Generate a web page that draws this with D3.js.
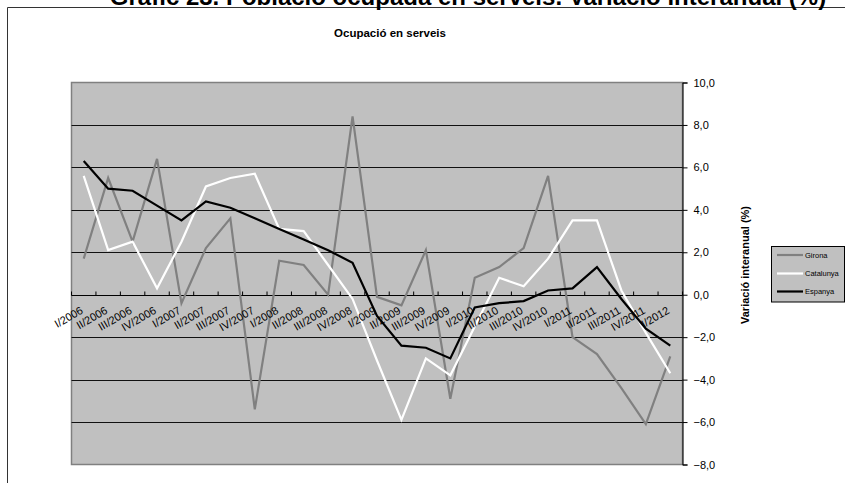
<!DOCTYPE html>
<html><head><meta charset="utf-8">
<script src="https://cdn.jsdelivr.net/npm/d3@7"></script>
<style>body{margin:0;background:#fff}svg{display:block;font-family:"Liberation Sans",Arial,sans-serif}</style>
</head><body><svg id="c" width="845" height="483"></svg>
<script>
const categories = ["I/2006","II/2006","III/2006","IV/2006","I/2007","II/2007","III/2007","IV/2007","I/2008","II/2008","III/2008","IV/2008","I/2009","II/2009","III/2009","IV/2009","I/2010","II/2010","III/2010","IV/2010","I/2011","II/2011","III/2011","IV/2011","I/2012"];
const girona    = [1.7,5.5,2.5,6.4,-0.4,2.2,3.6,-5.4,1.6,1.4,0.0,8.4,-0.1,-0.5,2.1,-4.9,0.8,1.3,2.2,5.6,-2.0,-2.8,-4.4,-6.1,-2.9];
const catalunya = [5.6,2.1,2.5,0.3,2.5,5.1,5.5,5.7,3.1,3.0,1.4,-0.2,-3.1,-5.9,-3.0,-3.8,-1.5,0.8,0.4,1.7,3.5,3.5,0.2,-1.8,-3.7];
const espanya   = [6.3,5.0,4.9,4.2,3.5,4.4,4.1,3.6,3.1,2.6,2.1,1.5,-1.0,-2.4,-2.5,-3.0,-0.6,-0.4,-0.3,0.2,0.3,1.3,-0.2,-1.6,-2.4];
const yTicks = [-8,-6,-4,-2,0,2,4,6,8,10];
const seriesNames = ["Girona","Catalunya","Espanya"];
const seriesColors = ["#808080","#ffffff","#000000"];

const svg = d3.select("#c");
const L = 71.5, R = 682.5, T = 82.5, B = 464.5;
const x = d3.scaleBand().domain(categories).range([L, R]);
const y = d3.scaleLinear().domain([-8, 10]).range([B, T]);
const cx = c => x(c) + x.bandwidth() / 2;

// outer frame
svg.append("path").attr("d", "M7.5,483 V7.5 H845").attr("fill","none").attr("stroke","#333").attr("stroke-width",1);

// main title (cut at top, as in the reference)
svg.append("text").attr("x", 468).attr("y", 5).attr("text-anchor","middle")
  .attr("font-size", 24).attr("font-weight","bold").attr("fill","#000")
  .text("Gràfic 23. Població ocupada en serveis. Variació interanual (%)");

// subtitle
svg.append("text").attr("x", 390).attr("y", 36.5).attr("text-anchor","middle")
  .attr("font-size", 11.5).attr("font-weight","bold").text("Ocupació en serveis");

// plot area
svg.append("rect").attr("x", L).attr("y", T).attr("width", R - L).attr("height", B - T)
  .attr("fill","#c0c0c0").attr("stroke","#808080").attr("stroke-width",1.5);

// gridlines
svg.append("g").selectAll("line").data(yTicks.filter(v => v > -8 && v < 10 && v !== 0)).join("line")
  .attr("x1", L).attr("x2", R).attr("y1", d => Math.round(y(d)) + 0.5).attr("y2", d => Math.round(y(d)) + 0.5)
  .attr("stroke","#111").attr("stroke-width",1);

// right axis
const yAxis = d3.axisRight(y).tickValues(yTicks).tickSize(5).tickPadding(6)
  .tickFormat(d => d3.format(".1f")(d).replace(".", ","));
const ga = svg.append("g").attr("transform", `translate(${R},0)`).call(yAxis);
ga.select(".domain").attr("stroke","#000");
ga.selectAll(".tick line").attr("stroke","#000");
ga.selectAll("text").attr("font-size", 11).attr("font-family","Liberation Sans, Arial, sans-serif").attr("fill","#000");

// y axis title
svg.append("text").attr("transform", "translate(749,265) rotate(-90)").attr("text-anchor","middle")
  .attr("font-size", 11).attr("font-weight","bold").text("Variació interanual (%)");

// x axis at 0
const y0 = Math.round(y(0)) + 0.5;
svg.append("line").attr("x1", L).attr("x2", R).attr("y1", y0).attr("y2", y0).attr("stroke","#000");
svg.append("g").selectAll("line").data(categories.concat(["__end"])).join("line")
  .attr("x1", (d, i) => i < categories.length ? x(d) : R)
  .attr("x2", (d, i) => i < categories.length ? x(d) : R)
  .attr("y1", y0).attr("y2", y0 - 4).attr("stroke","#000");

// lines
const line = d3.line().x((d, i) => cx(categories[i])).y(d => y(d));
[girona, catalunya, espanya].forEach((s, k) => {
  svg.append("path").datum(s).attr("d", line).attr("fill","none")
    .attr("stroke", seriesColors[k]).attr("stroke-width", 2.2).attr("stroke-linejoin","miter");
});

// x labels
svg.append("g").selectAll("text").data(categories).join("text")
  .attr("transform", d => `translate(${cx(d) - 4},${y0 + 10}) rotate(-30)`)
  .attr("text-anchor","end").attr("dy","0.75em").attr("font-size", 11).attr("fill","#000")
  .text(d => d);

// legend
const lg = svg.append("g");
lg.append("rect").attr("x", 771.5).attr("y", 246.5).attr("width", 73).attr("height", 55.5)
  .attr("fill","#c0c0c0").attr("stroke","#000").attr("stroke-width",1);
const ly = [255, 273.5, 291.5];
seriesNames.forEach((n, k) => {
  lg.append("line").attr("x1", 777).attr("x2", 803).attr("y1", ly[k]).attr("y2", ly[k])
    .attr("stroke", seriesColors[k]).attr("stroke-width", 2.2);
  lg.append("text").attr("x", 805).attr("y", ly[k]).attr("dy","0.35em").attr("font-size", 7.5).text(n);
});
</script></body></html>
